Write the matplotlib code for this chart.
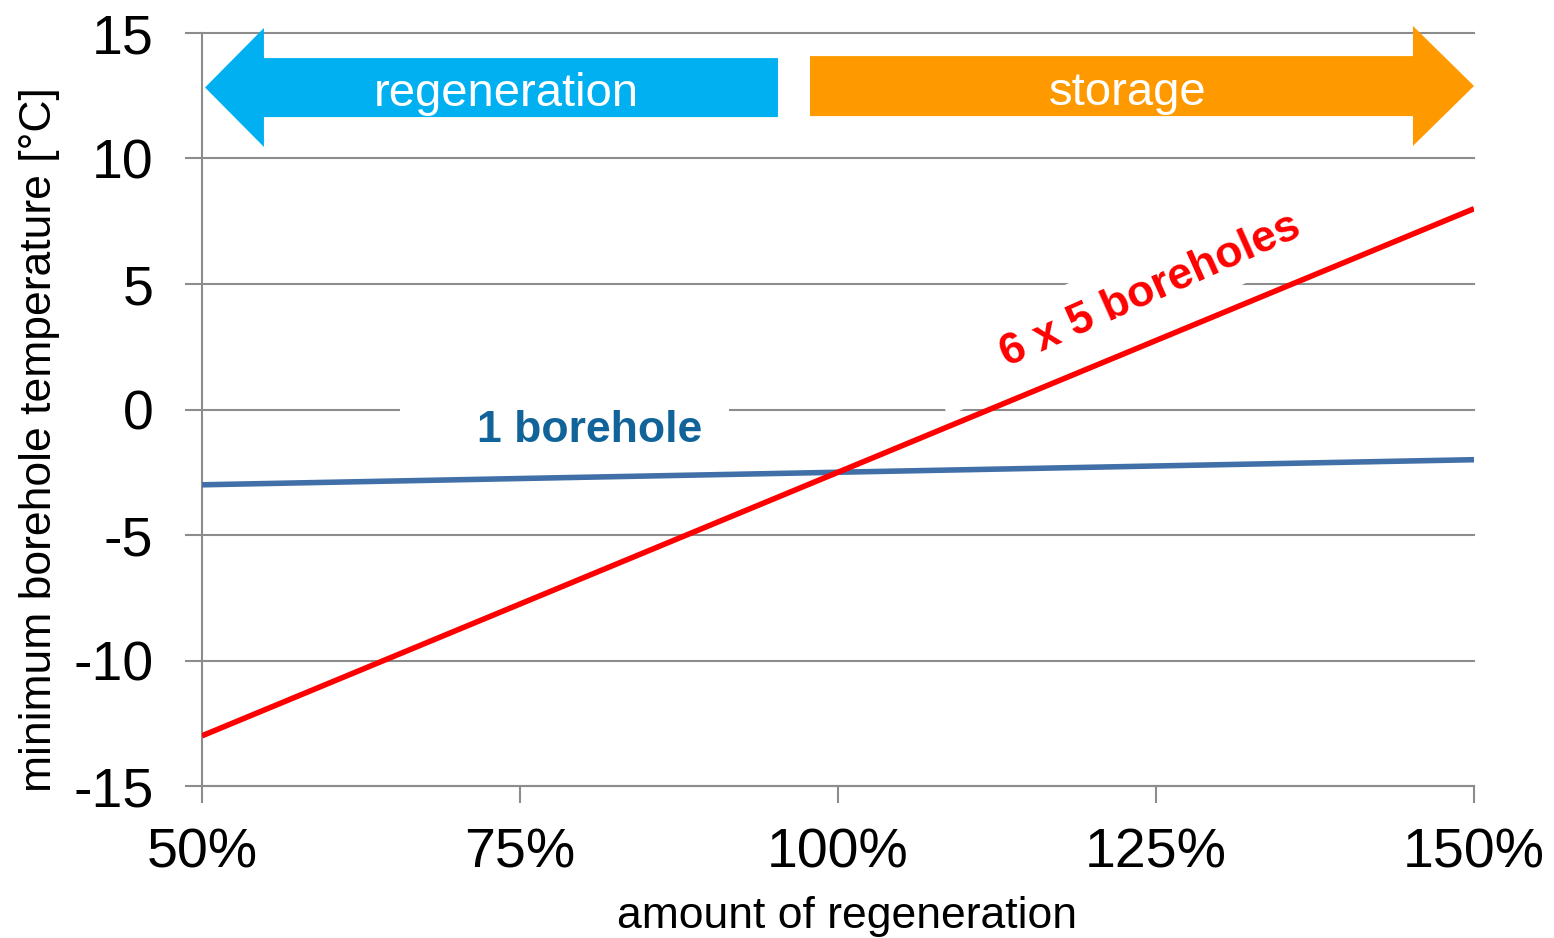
import matplotlib
matplotlib.use("Agg")
import matplotlib.pyplot as plt
from matplotlib.patches import Polygon, Rectangle

plt.rcParams['font.family'] = ['Liberation Sans', 'DejaVu Sans']

# ---- data ----
regen_pct = [50, 100, 150]
temp_1_borehole = [-3.0, -2.5, -2.0]
temp_6x5_boreholes = [-13.0, -2.5, 8.0]
x_ticks = [50, 75, 100, 125, 150]
x_tick_labels = ["50%", "75%", "100%", "125%", "150%"]
y_ticks = [-15, -10, -5, 0, 5, 10, 15]
y_tick_labels = ["-15", "-10", "-5", "0", "5", "10", "15"]

GRID = '#8c8c8c'
fig = plt.figure(figsize=(15.54, 9.38), dpi=100)
ax = fig.add_axes([202/1554, 1-786/938, 1272/1554, 753/938])

ax.set_xlim(50, 150)
ax.set_ylim(-15, 15)
ax.set_xticks(x_ticks)
ax.set_xticklabels(x_tick_labels)
ax.set_yticks(y_ticks)
ax.set_yticklabels(y_tick_labels)
ax.tick_params(axis='both', direction='out', length=12, width=1.5, color=GRID,
               labelsize=40)
ax.tick_params(axis='y', pad=23)
ax.tick_params(axis='x', pad=18)
for s in ['top', 'right']:
    ax.spines[s].set_visible(False)
for s in ['left', 'bottom']:
    ax.spines[s].set_color(GRID)
    ax.spines[s].set_linewidth(1.5)
ax.set_axisbelow(True)
ax.grid(axis='y', color=GRID, linewidth=1.5)
for gl in ax.get_ygridlines():
    gl.set_clip_on(False)

# white boxes behind labels (interrupt gridlines)
ax.add_patch(Rectangle((65.6, -2.0), 25.8, 2.6, facecolor='white',
                       edgecolor='none', zorder=1))
ax.add_patch(Polygon([(108.65, -0.26), (106.37, 2.37), (136.48, 9.18), (138.76, 6.55)],
                     closed=True, facecolor='white', edgecolor='none', zorder=1))

ax.plot(regen_pct, temp_1_borehole, color='#4170a8', linewidth=4.0, zorder=3,
        solid_capstyle='butt')
ax.plot(regen_pct, temp_6x5_boreholes, color='#ff0000', linewidth=4.0, zorder=4,
        solid_capstyle='butt')

# arrows
ax.add_patch(Polygon([(50.24, 12.83), (54.87, 15.2), (54.87, 14.0), (95.28, 14.0),
                      (95.28, 11.65), (54.87, 11.65), (54.87, 10.46)],
                     closed=True, facecolor='#00b0f0', edgecolor='none',
                     zorder=2, clip_on=False))
ax.add_patch(Polygon([(97.8, 14.08), (145.2, 14.08), (145.2, 15.28), (150.0, 12.89),
                      (145.2, 10.5), (145.2, 11.69), (97.8, 11.69)],
                     closed=True, facecolor='#ff9900', edgecolor='none',
                     zorder=2, clip_on=False))
ax.text(73.9, 12.55, "regeneration", color='white', fontsize=34,
        ha='center', va='center', zorder=5)
ax.text(122.8, 12.6, "storage", color='white', fontsize=34,
        ha='center', va='center', zorder=5)

ax.text(80.5, -0.85, "1 borehole", color='#10649a', fontsize=32,
        fontweight='bold', ha='center', va='center', zorder=5)
ax.text(124.6, 4.75, "6 x 5 boreholes", color='#ff0000', fontsize=32,
        fontweight='bold', ha='center', va='center', rotation=24,
        rotation_mode='anchor', zorder=5)

ax.set_xlabel("amount of regeneration", fontsize=32)
ax.set_ylabel("minimum borehole temperature [°C]", fontsize=32)
ax.xaxis.set_label_coords(0.507, -0.146)
ax.yaxis.set_label_coords(-0.1117, 0.46)

fig.savefig("out.png", dpi=100)
